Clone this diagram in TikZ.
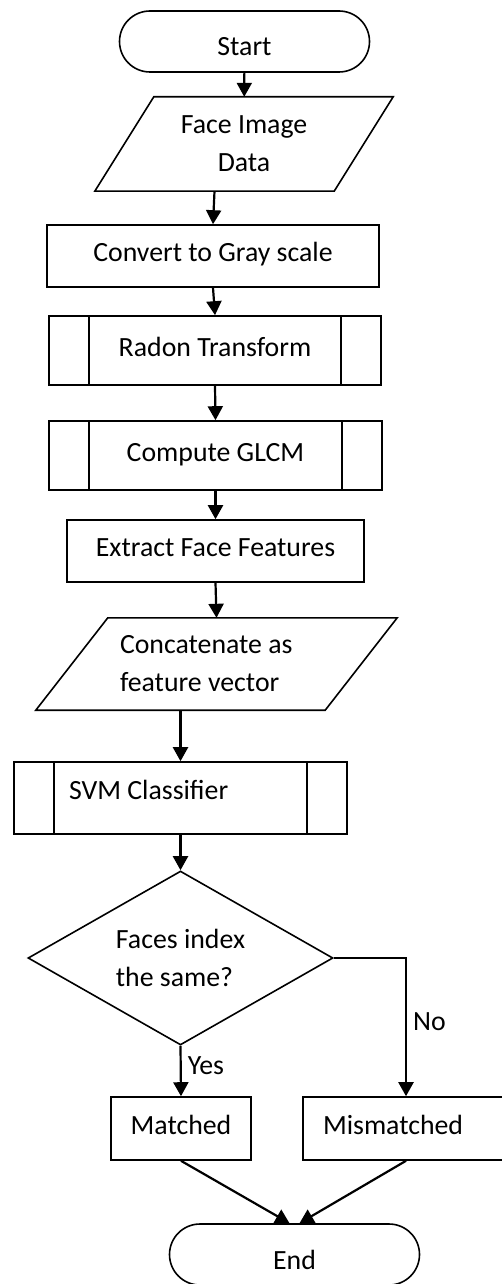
\documentclass[tikz,border=0pt]{standalone}
\usepackage{fontspec}
\setmainfont{Carlito}
\usepackage{tikz}
\usetikzlibrary{shapes.geometric,shapes.misc,arrows.meta}

\begin{document}
\begin{tikzpicture}[x=1pt,y=-1pt]
  \tikzset{flowtext/.style={font=\fontsize{27.8pt}{38pt}\selectfont,inner sep=0pt,text=black}}
  \tikzset{flowline/.style={draw=black,line width=1.6pt}}
  \tikzset{terminal/.style={flowtext,flowline,rounded rectangle,minimum width=250pt,minimum height=61pt,text height=29pt,text depth=0pt}}
  \tikzset{iobox/.style={flowtext,rectangle}}
  \tikzset{procbox/.style={flowtext,flowline,rectangle,text height=19pt,text depth=8pt}}
  \tikzset{subproc/.style={procbox,
      path picture={\draw[flowline] ([xshift=40pt]path picture bounding box.north west) -- ([xshift=40pt]path picture bounding box.south west);
                    \draw[flowline] ([xshift=-40pt]path picture bounding box.north east) -- ([xshift=-40pt]path picture bounding box.south east);}}}
  \tikzset{decision/.style={flowtext,flowline,diamond,aspect=1.75,align=flush left}}
  \tikzset{flowarrow/.style={draw=black,line width=2.2pt,-{Triangle[length=14pt,width=15pt]}}}
  \tikzset{branchlabel/.style={flowtext,inner sep=0pt}}
  \useasboundingbox (0,0) rectangle (501,1284);
  \node[terminal] (start) at (244.5,41.5) {Start};
  \node[iobox,minimum width=298pt,minimum height=94pt,align=center] (face) at (244.0,144.0) {Face Image\\Data};
  \draw[flowline] ([xshift=59pt]face.north west) -- (face.north east) -- ([xshift=-59pt]face.south east) -- (face.south west) -- cycle;
  \node[procbox,minimum width=332pt,minimum height=62pt] (convert) at (213.0,256.0) {Convert to Gray scale};
  \node[subproc,minimum width=332pt,minimum height=69pt] (radon) at (215.0,350.5) {Radon Transform};
  \node[subproc,minimum width=333pt,minimum height=69pt] (glcm) at (215.5,455.5) {Compute GLCM};
  \node[procbox,minimum width=297pt,minimum height=62pt] (extract) at (215.5,551.0) {Extract Face Features};
  \node[iobox,minimum width=361pt,minimum height=92pt,text width=193pt,align=flush left] (concat) at (216.5,664.0) {Concatenate as\\feature vector};
  \draw[flowline] ([xshift=72pt]concat.north west) -- (concat.north east) -- ([xshift=-72pt]concat.south east) -- (concat.south west) -- cycle;
  \node[subproc,minimum width=333pt,minimum height=72pt,text width=223pt,align=flush left,text height=18pt,text depth=16pt] (svm) at (180.5,798.0) {SVM Classifier};
  \node[decision,minimum width=305pt,minimum height=174pt] (decide) at (180.5,958.0) {Faces index\\the same?};
  \node[procbox,minimum width=140pt,minimum height=63pt] (matched) at (181.0,1128.5) {Matched};
  \node[procbox,minimum width=206pt,minimum height=63pt,text width=166pt,align=flush left] (mismatched) at (406.0,1128.5) {Mismatched};
  \node[terminal] (finish) at (294.5,1254.5) {End};
  \draw[flowarrow] (start) -- (face);
  \draw[flowarrow] ([xshift=-29.5pt]face.south) -- (convert.north);
  \draw[flowarrow] (convert.south) -- (radon.north);
  \draw[flowarrow] (radon.south) -- (glcm.north);
  \draw[flowarrow] (glcm.south) -- (extract.north);
  \draw[flowarrow] (extract.south) -- (concat.north);
  \draw[flowarrow] ([xshift=-36pt]concat.south) -- (svm.north);
  \draw[flowarrow] (svm.south) -- (decide.north);
  \draw[flowarrow] (decide.south) -- node[branchlabel,anchor=west,pos=0.4,xshift=6pt] (yes) {Yes} (matched.north);
  \draw[flowarrow] (decide.east) -| node[branchlabel,anchor=west,pos=0.73,xshift=6pt] (no) {No} (mismatched.north);
  \draw[flowarrow] (matched.south) -- ([xshift=-5pt]finish.north);
  \draw[flowarrow] (mismatched.south) -- ([xshift=5pt]finish.north);
\end{tikzpicture}
\end{document}
